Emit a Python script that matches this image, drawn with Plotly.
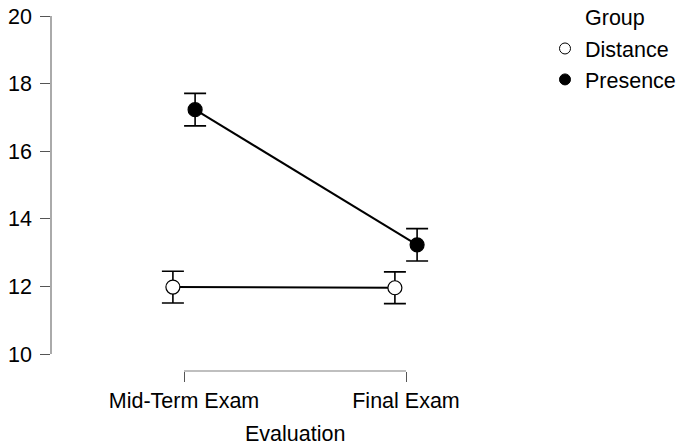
import plotly.graph_objects as go

categories = ["Mid-Term Exam", "Final Exam"]
groups = ["Distance", "Presence"]
distance_mean = [11.98, 11.96]
distance_err = [0.47, 0.47]
presence_mean = [17.23, 13.23]
presence_err = [0.48, 0.48]
y_ticks = [10, 12, 14, 16, 18, 20]

FONT = "Arial, Liberation Sans, sans-serif"
FS = 21.5
dodge = 0.05
idx = list(range(len(categories)))

fills = {"Distance": "white", "Presence": "black"}
series = {"Distance": (distance_mean, distance_err, -dodge),
          "Presence": (presence_mean, presence_err, dodge)}

fig = go.Figure()
for g in groups:
    means, errs, off = series[g]
    fig.add_trace(go.Scatter(
        x=[i + off for i in idx], y=means, name=g, showlegend=False,
        mode="lines+markers",
        line=dict(color="black", width=2),
        marker=dict(size=14, color=fills[g], line=dict(color="black", width=1.2)),
        error_y=dict(type="data", array=errs, visible=True, color="black", thickness=1.6, width=11),
    ))
# legend-only entries (markers without lines)
for g in groups:
    fig.add_trace(go.Scatter(
        x=[None], y=[None], name=g, mode="markers", showlegend=True,
        marker=dict(size=11, color=fills[g], line=dict(color="black", width=1)),
    ))

W, H = 676, 447
ml, mr, mt, mb = 52, 138, 16, 76
pw, ph = W - ml - mr, H - mt - mb
xr = [-0.5946, 1.5946]

fig.update_layout(
    width=W, height=H,
    margin=dict(l=ml, r=mr, t=mt, b=mb, autoexpand=False),
    paper_bgcolor="white", plot_bgcolor="white",
    font=dict(family=FONT, size=FS, color="black"),
    showlegend=True,
    legend=dict(
        x=(545 - ml) / pw, xanchor="left", y=1 - (28 - mt) / ph, yanchor="top",
        font=dict(size=FS), itemsizing="trace",
        tracegroupgap=0, bgcolor="rgba(0,0,0,0)",
    ),
    xaxis=dict(
        range=xr, tickvals=idx, ticktext=categories,
        showgrid=False, zeroline=False, showline=False, automargin=False,
        ticks="outside", ticklen=10, tickcolor="#555", tickwidth=1,
        anchor="free", position=0,
        tickfont=dict(size=FS),
    ),
    yaxis=dict(
        range=[10, 20], tickvals=y_ticks, domain=[17 / ph, 1],
        showgrid=False, zeroline=False, showline=True, linecolor="#aaa", linewidth=1.5,
        automargin=False,
        ticks="outside", ticklen=10, tickcolor="#555", tickwidth=1,
        ticklabelstandoff=4,
        tickfont=dict(size=FS),
    ),
)
fig.add_shape(type="line", xref="x", yref="paper", x0=idx[0], x1=idx[-1], y0=0, y1=0,
              line=dict(color="#aaa", width=1.5))
fig.add_annotation(text="Group", xref="paper", yref="paper",
                   x=(583 - ml) / pw, y=1 - (18 - mt) / ph, xanchor="left", yanchor="middle",
                   showarrow=False, font=dict(size=FS))
fig.add_annotation(text="Evaluation", xref="paper", yref="paper",
                   x=0.5, y=-(434 - (H - mb)) / ph, xanchor="center", yanchor="middle",
                   showarrow=False, font=dict(size=FS))

fig.write_html("out.html", config={"displayModeBar": False},
               post_script="document.body.style.margin='0';document.body.style.overflow='hidden';")
